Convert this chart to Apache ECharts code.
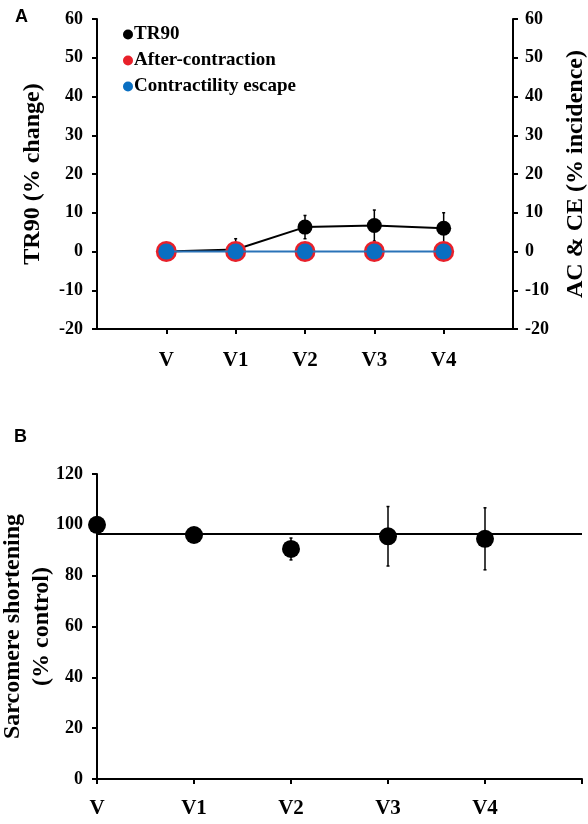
<!DOCTYPE html>
<html><head><meta charset="utf-8">
<script src="https://cdn.jsdelivr.net/npm/echarts@6/dist/echarts.min.js"></script>
<style>html,body{margin:0;padding:0;background:#fff}#c{width:588px;height:824px}</style>
</head><body><div id="c"></div>
<script>
// ---- Data ----
const categoriesA = ['V', 'V1', 'V2', 'V3', 'V4'];
const tr90 = [0, 0.5, 6.3, 6.7, 6.0];
const tr90Err = [0, 2.8, 3.0, 4.0, 4.0];
const afterContraction = [0, 0, 0, 0, 0];
const contractilityEscape = [0, 0, 0, 0, 0];
const yTicksA = { min: -20, max: 60, interval: 10 };

const categoriesB = ['V', 'V1', 'V2', 'V3', 'V4'];
const sarcomere = [100, 96, 90.5, 95.5, 94.5];
const sarcomereErr = [0, 0, 4.3, 11.7, 12.2];
const referenceLineB = [96.4];
const yTicksB = { min: 0, max: 120, interval: 20 };

// ---- Build ----
const serif = 'Liberation Serif';
const axisCatsA = [''].concat(categoriesA, [' ']);
const axisCatsB = categoriesB.concat([' ']);

function errRender(params, api) {
  const x = api.value(0), y = api.value(1), e = api.value(2);
  if (!e) return null;
  const t = api.coord([x, y + e]), b = api.coord([x, y - e]);
  const st = { stroke: '#000', lineWidth: 1.5 };
  return { type: 'group', children: [
    { type: 'line', shape: { x1: t[0], y1: t[1], x2: b[0], y2: b[1] }, style: st },
    { type: 'line', shape: { x1: t[0] - 1.5, y1: t[1], x2: t[0] + 1.5, y2: t[1] }, style: st },
    { type: 'line', shape: { x1: b[0] - 1.5, y1: b[1], x2: b[0] + 1.5, y2: b[1] }, style: st }
  ]};
}

const axisLine = { show: true, onZero: false, lineStyle: { color: '#000', width: 2 } };
const tickLab = { color: '#000', fontFamily: serif, fontWeight: 'bold', fontSize: 18 };
const nameSt = { color: '#000', fontFamily: serif, fontWeight: 'bold', fontSize: 24 };

const option = {
  animation: false,
  backgroundColor: '#fff',
  title: [
    { text: 'A', left: 10, top: 3, textStyle: { fontFamily: 'Liberation Sans', fontWeight: 'bold', fontSize: 18, color: '#000' } },
    { text: 'B', left: 9, top: 423, textStyle: { fontFamily: 'Liberation Sans', fontWeight: 'bold', fontSize: 18, color: '#000' } }
  ],
  legend: {
    orient: 'vertical', left: 118, top: 20, itemWidth: 10, itemHeight: 10, itemGap: 7,
    icon: 'circle',
    data: ['TR90', 'After-contraction', 'Contractility escape'],
    textStyle: { fontFamily: serif, fontWeight: 'bold', fontSize: 19, color: '#000', padding: [0, 0, 0, -4] }
  },
  grid: [
    { left: 97, right: 75, top: 19, height: 310, outerBoundsMode: 'none', containLabel: false },
    { left: 97, right: 6, top: 474, height: 305, outerBoundsMode: 'none', containLabel: false }
  ],
  xAxis: [
    { gridIndex: 0, type: 'category', data: axisCatsA, boundaryGap: false,
      axisLine: axisLine,
      axisTick: { show: true, length: 5, lineStyle: { color: '#000', width: 2 },
        interval: (i, v) => v.trim() !== '' },
      axisLabel: Object.assign({}, tickLab, { fontSize: 21, margin: 21, interval: 0 }),
      splitLine: { show: false } },
    { gridIndex: 1, type: 'category', data: axisCatsB, boundaryGap: false,
      axisLine: axisLine,
      axisTick: { show: true, length: 5, interval: 0, lineStyle: { color: '#000', width: 2 } },
      axisLabel: Object.assign({}, tickLab, { fontSize: 21, margin: 19, interval: 0 }),
      splitLine: { show: false } }
  ],
  yAxis: [
    { gridIndex: 0, type: 'value', min: yTicksA.min, max: yTicksA.max, interval: yTicksA.interval,
      name: 'TR90 (% change)', nameLocation: 'middle', nameGap: 52, nameMoveOverlap: false, nameTextStyle: nameSt,
      axisLine: axisLine, axisTick: { show: true, length: 5, lineStyle: { color: '#000', width: 2 } },
      axisLabel: Object.assign({}, tickLab, { margin: 14 }), splitLine: { show: false } },
    { gridIndex: 0, type: 'value', position: 'right', min: yTicksA.min, max: yTicksA.max, interval: yTicksA.interval,
      name: 'AC & CE (% incidence)', nameLocation: 'middle', nameGap: 51, nameRotate: 90, nameMoveOverlap: false, nameTextStyle: nameSt,
      axisLine: axisLine, axisTick: { show: true, length: 5, lineStyle: { color: '#000', width: 2 } },
      axisLabel: Object.assign({}, tickLab, { margin: 12 }), splitLine: { show: false } },
    { gridIndex: 1, type: 'value', min: yTicksB.min, max: yTicksB.max, interval: yTicksB.interval,
      name: 'Sarcomere shortening\n(% control)', nameLocation: 'middle', nameGap: 41, nameMoveOverlap: false,
      nameTextStyle: Object.assign({}, nameSt, { lineHeight: 29 }),
      axisLine: axisLine, axisTick: { show: true, length: 5, lineStyle: { color: '#000', width: 2 } },
      axisLabel: Object.assign({}, tickLab, { margin: 14 }), splitLine: { show: false } }
  ],
  series: [
    { name: 'TR90 err', type: 'custom', xAxisIndex: 0, yAxisIndex: 0, z: 1,
      renderItem: errRender, clip: false,
      data: categoriesA.map((c, i) => [c, tr90[i], tr90Err[i]]) },
    { name: 'TR90', type: 'line', xAxisIndex: 0, yAxisIndex: 0, z: 2,
      symbol: 'circle', symbolSize: 15, itemStyle: { color: '#000' },
      lineStyle: { color: '#000', width: 2 },
      data: categoriesA.map((c, i) => [c, tr90[i]]) },
    { name: 'After-contraction', type: 'line', xAxisIndex: 0, yAxisIndex: 0, z: 3,
      symbol: 'circle', symbolSize: 21, itemStyle: { color: '#e8202a' },
      lineStyle: { width: 0 },
      data: categoriesA.map((c, i) => [c, afterContraction[i]]) },
    { name: 'Contractility escape', type: 'line', xAxisIndex: 0, yAxisIndex: 0, z: 4,
      symbol: 'circle', symbolSize: 16, itemStyle: { color: '#0a6fc2' },
      lineStyle: { color: '#2a73b8', width: 2 },
      data: categoriesA.map((c, i) => [c, contractilityEscape[i]]) },
    { name: 'Sarcomere err', type: 'custom', xAxisIndex: 1, yAxisIndex: 2, z: 1,
      renderItem: errRender, clip: false,
      data: categoriesB.map((c, i) => [c, sarcomere[i], sarcomereErr[i]]) },
    { name: 'Sarcomere', type: 'scatter', xAxisIndex: 1, yAxisIndex: 2, z: 3, clip: false,
      symbol: 'circle', symbolSize: 18, itemStyle: { color: '#000', opacity: 1 },
      data: categoriesB.map((c, i) => [c, sarcomere[i]]),
      markLine: { silent: true, symbol: 'none', label: { show: false },
        lineStyle: { color: '#000', width: 2, type: 'solid' },
        data: referenceLineB.map(v => ({ yAxis: v })) } }
  ]
};
const chart = echarts.init(document.getElementById('c'), null, { renderer: 'canvas' });
chart.setOption(option);
</script></body></html>
